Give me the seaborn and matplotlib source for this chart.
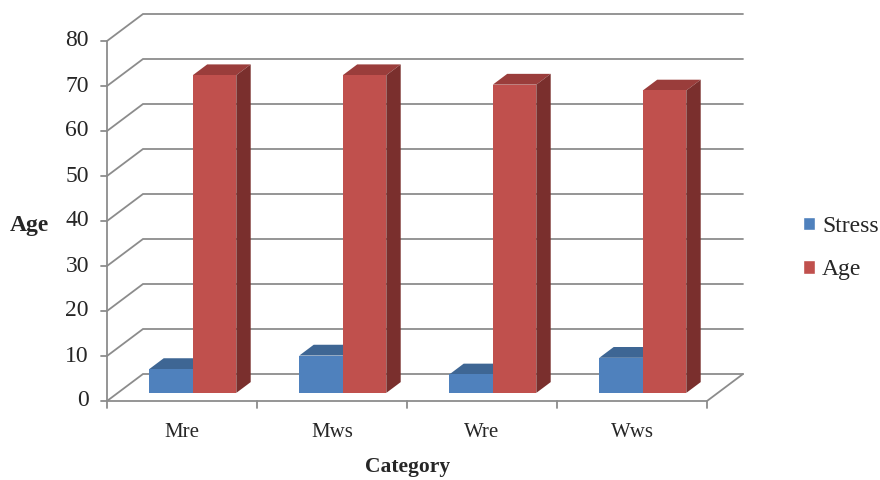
import matplotlib
matplotlib.use("Agg")
import matplotlib.pyplot as plt
from matplotlib.patches import Polygon
import seaborn as sns
import pandas as pd

# data
categories = ["Mre", "Mws", "Wre", "Wws"]
stress = [5.3, 8.3, 4.1, 7.8]
age = [70.6, 70.6, 68.5, 67.2]
series = ["Stress", "Age"]
yticks = [0, 10, 20, 30, 40, 50, 60, 70, 80]

front_cols = {"Stress": "#4F81BD", "Age": "#C0504D"}
top_cols = {"Stress": "#3E6694", "Age": "#9A3D3B"}
side_cols = {"Stress": "#37598A", "Age": "#7A2F2D"}
grid_col = "#8C8C8C"

df = pd.DataFrame({
    "Category": categories * 2,
    "value": stress + age,
    "series": ["Stress"] * 4 + ["Age"] * 4,
})

sns.set_style("white")
plt.rcParams["font.family"] = ["Liberation Serif", "DejaVu Serif"]

fig = plt.figure(figsize=(8.8, 4.8), dpi=100)
# front plane: x=-0.5 -> px 107, 150 px per category; y=0 -> px 401, 4.5 px per unit
ax = fig.add_axes([107 / 880, (480 - 401) / 480, 636 / 880, 387 / 480])
DX, DY = 36 / 150, 27 / 4.5  # full depth offset in data units

sns.barplot(data=df, x="Category", y="value", hue="series", palette=front_cols,
            width=0.58, ax=ax, legend=True, zorder=3, saturation=1)
ax.set_xlim(-0.5, 3.5 + DX)
ax.set_ylim(0, 86)

# back wall gridlines + left wall diagonals
for v in yticks:
    ax.plot([-0.5, -0.5 + DX, 3.5 + DX], [v, v + DY, v + DY],
            color=grid_col, lw=1.3, zorder=1, clip_on=False, solid_joinstyle="miter")
# floor
ax.plot([-0.5, 3.5, 3.5 + DX], [0, 0, DY], color=grid_col, lw=1.3, zorder=1, clip_on=False)
# front y axis
ax.plot([-0.5, -0.5], [0, 80], color=grid_col, lw=1.3, zorder=1, clip_on=False)
for v in yticks:
    ax.plot([-0.5 - 0.04, -0.5], [v, v], color=grid_col, lw=1.3, clip_on=False)
    ax.text(-0.5 - 0.12, v, str(v), ha="right", va="center", fontsize=17)
# category ticks below floor
for i in range(5):
    ax.plot([i - 0.5, i - 0.5], [0, -1.6], color=grid_col, lw=1.3, clip_on=False)

# 3D faces for each bar, bars placed at mid-depth
f0, f1 = 0.3, 0.7
for name, cont in zip(series, ax.containers):
    for bar in cont:
        x0, w, h = bar.get_x(), bar.get_width(), bar.get_height()
        fx, fy, bx, by = DX * f0, DY * f0, DX * f1, DY * f1
        bar.set_x(x0 + fx)
        bar.set_y(fy)
        bar.set_linewidth(0)
        top = [(x0 + fx, h + fy), (x0 + fx + w, h + fy), (x0 + bx + w, h + by), (x0 + bx, h + by)]
        side = [(x0 + fx + w, fy), (x0 + bx + w, by), (x0 + bx + w, h + by), (x0 + fx + w, h + fy)]
        ax.add_patch(Polygon(top, closed=True, fc=top_cols[name], ec="none", zorder=2.5))
        ax.add_patch(Polygon(side, closed=True, fc=side_cols[name], ec="none", zorder=2.5))

for s in ax.spines.values():
    s.set_visible(False)
ax.set_xticks([])
ax.set_yticks([])
ax.set_xlabel("")
ax.set_ylabel("")
for i, c in enumerate(categories):
    ax.text(i, -7.0, c, ha="center", va="center", fontsize=15)

fig.text(408 / 880, 1 - 467 / 480, "Category", ha="center", va="center",
         fontsize=15.5, fontweight="bold")
fig.text(29 / 880, 1 - 225 / 480, "Age", ha="center", va="center",
         fontsize=17, fontweight="bold")

handles, labels = ax.get_legend_handles_labels()
ax.get_legend().remove()
fig.legend(handles, labels, loc="center left", bbox_to_anchor=(782 / 880, 1 - 248 / 480),
           frameon=False, fontsize=17, handlelength=0.5, handleheight=0.5,
           handletextpad=0.3, labelspacing=0.95)

fig.savefig("out.png", dpi=100)
